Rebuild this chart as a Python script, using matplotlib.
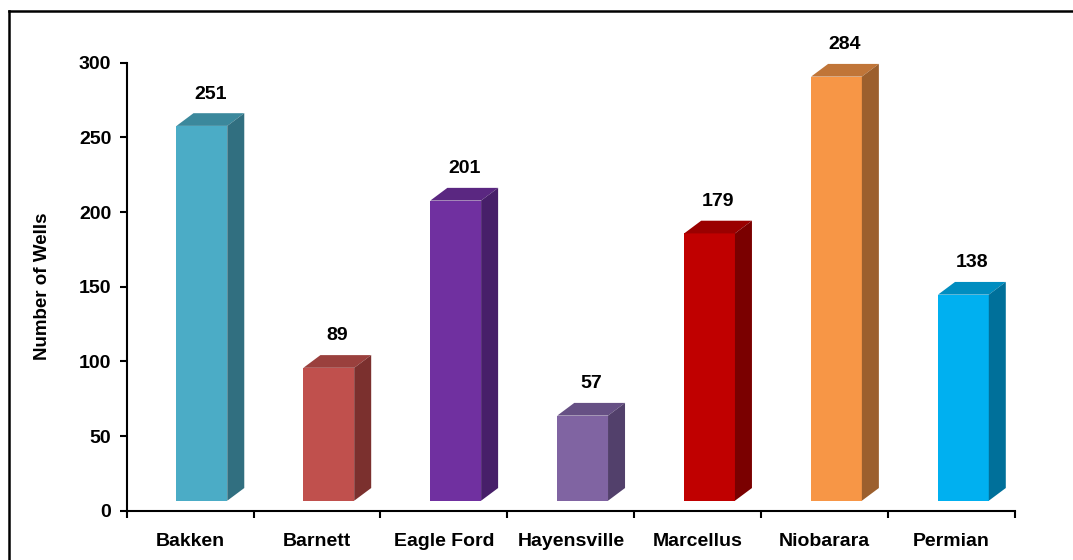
import matplotlib.pyplot as plt
from matplotlib.patches import Polygon
from matplotlib.lines import Line2D

plt.rcParams['font.family'] = ['Liberation Sans', 'DejaVu Sans']
plt.rcParams['font.weight'] = 'bold'

# data
basins = ["Bakken", "Barnett", "Eagle Ford", "Hayensville", "Marcellus", "Niobarara", "Permian"]
wells = [251, 89, 201, 57, 179, 284, 138]
front_colors = ["#4BACC6", "#C0504D", "#7030A0", "#8064A2", "#C00000", "#F79646", "#00B0F0"]
top_colors = ["#3B889C", "#9A403D", "#5A2781", "#665084", "#9A0000", "#C07538", "#008DC0"]
side_colors = ["#316F80", "#7B302E", "#471F69", "#52406B", "#7A0000", "#9C5F2D", "#00709A"]

fig = plt.figure(figsize=(10.73, 5.6), dpi=100)
ax = fig.add_axes([0.118, 0.088, 0.828, 0.800])

# fake 3D look
base = 6.7     # floor offset
dx, dy = 0.134, 8.5
left_off, width = -0.107, 0.40

for i, v in enumerate(wells):
    x0 = i + left_off
    x1 = x0 + width
    top = base + v
    ax.bar(x0, v, width=width, bottom=base, align='edge', color=front_colors[i],
           edgecolor='none', zorder=3)
    ax.add_patch(Polygon([(x0, top), (x0 + dx, top + dy), (x1 + dx, top + dy), (x1, top)],
                         closed=True, facecolor=top_colors[i], edgecolor='none', zorder=3))
    ax.add_patch(Polygon([(x1, base), (x1 + dx, base + dy), (x1 + dx, top + dy), (x1, top)],
                         closed=True, facecolor=side_colors[i], edgecolor='none', zorder=3))
    ax.text((x0 + x1 + dx) / 2, v + 28, str(v), ha='center', va='center',
            fontsize=14, fontweight='bold')

ax.set_xlim(-0.5, len(basins) - 0.5)
ax.set_ylim(0, 300)
ax.set_yticks(range(0, 301, 50))
ax.set_xticks(range(len(basins)))
ax.set_xticklabels(basins)
ax.set_xticks([i - 0.5 for i in range(len(basins) + 1)], minor=True)
ax.tick_params(axis='x', which='major', length=0, pad=16, labelsize=14)
ax.tick_params(axis='x', which='minor', length=5, width=1.5, direction='out')
ax.tick_params(axis='y', length=5, width=1.5, pad=6, labelsize=14)

for s in ['top', 'right']:
    ax.spines[s].set_visible(False)
for s in ['left', 'bottom']:
    ax.spines[s].set_linewidth(1.5)

ax.set_ylabel("Number of Wells", fontsize=13.5, fontweight='bold', labelpad=20)

# outer frame
W, H = 1073, 560
fig.add_artist(Line2D([8.5 / W, 1], [1 - 10.5 / H, 1 - 10.5 / H], transform=fig.transFigure,
                      color='black', linewidth=1.8))
fig.add_artist(Line2D([8.5 / W, 8.5 / W], [0, 1 - 10.5 / H], transform=fig.transFigure,
                      color='black', linewidth=1.8))

fig.savefig("out.png", dpi=100)
